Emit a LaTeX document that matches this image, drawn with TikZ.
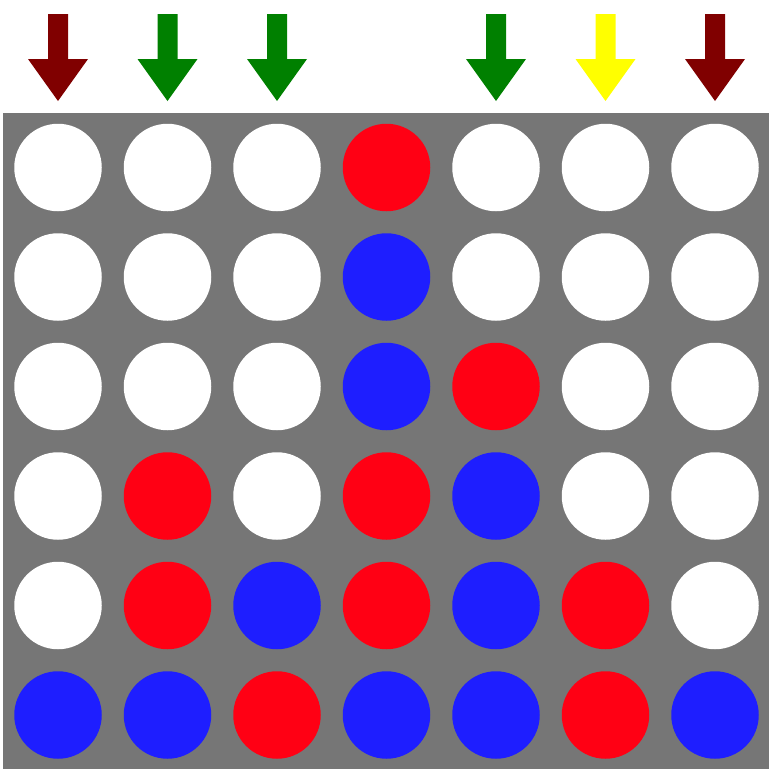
\documentclass[tikz,border=0pt]{standalone}
\definecolor{board}{RGB}{118,118,118}
\definecolor{pr}{RGB}{255,0,20}
\definecolor{pb}{RGB}{30,30,255}
\definecolor{dred}{RGB}{128,0,0}
\definecolor{dgreen}{RGB}{0,128,0}
\definecolor{yel}{RGB}{255,255,0}
\begin{document}
\begin{tikzpicture}[x=1pt,y=-1pt,
  disc/.style={circle,draw=none,minimum size=87.5pt,inner sep=0pt},
  W/.style={disc,fill=white},R/.style={disc,fill=pr},B/.style={disc,fill=pb}]
\useasboundingbox (0,0) rectangle (774,774);
\fill[white] (0,0) rectangle (774,774);
\fill[board] (3,112.5) rectangle (769,769);
\newcommand{\droparrow}[2]{%
  \fill[#2] (#1-10,14) -- (#1+10,14) -- (#1+10,59) -- (#1+30,59) -- (#1,101) -- (#1-30,59) -- (#1-10,59) -- cycle;}
\droparrow{58}{dred}
\droparrow{167.5}{dgreen}
\droparrow{277}{dgreen}
\droparrow{496}{dgreen}
\droparrow{605.5}{yel}
\droparrow{715}{dred}
\foreach \r/\row in {0/{W,W,W,R,W,W,W},1/{W,W,W,B,W,W,W},2/{W,W,W,B,R,W,W},3/{W,R,W,R,B,W,W},4/{W,R,B,R,B,R,W},5/{B,B,R,B,B,R,B}}{
  \foreach \c [count=\i from 0] in \row {
    \node[\c] (c\r\i) at ({58+109.5*\i},{167.5+109.5*\r}) {};
  }
}
\end{tikzpicture}
\end{document}
